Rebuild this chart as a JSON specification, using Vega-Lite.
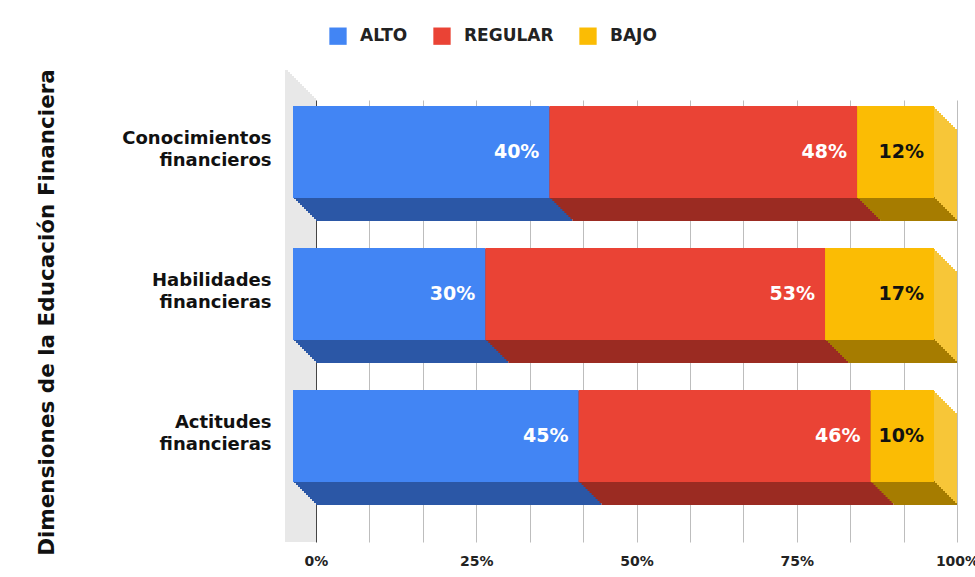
{
  "$schema": "https://vega.github.io/schema/vega-lite/v6.json",
  "width": 641,
  "height": 442,
  "autosize": "none",
  "padding": {"left": 316, "top": 100, "right": 18, "bottom": 35},
  "background": "white",
  "data": {
    "values": [
      {"dim": "Conocimientos financieros", "nivel": "ALTO", "orden": 1, "pct": 0.40},
      {"dim": "Conocimientos financieros", "nivel": "REGULAR", "orden": 2, "pct": 0.48},
      {"dim": "Conocimientos financieros", "nivel": "BAJO", "orden": 3, "pct": 0.12},
      {"dim": "Habilidades financieras", "nivel": "ALTO", "orden": 1, "pct": 0.30},
      {"dim": "Habilidades financieras", "nivel": "REGULAR", "orden": 2, "pct": 0.53},
      {"dim": "Habilidades financieras", "nivel": "BAJO", "orden": 3, "pct": 0.17},
      {"dim": "Actitudes financieras", "nivel": "ALTO", "orden": 1, "pct": 0.45},
      {"dim": "Actitudes financieras", "nivel": "REGULAR", "orden": 2, "pct": 0.46},
      {"dim": "Actitudes financieras", "nivel": "BAJO", "orden": 3, "pct": 0.10}
    ]
  },
  "transform": [
    {"stack": "pct", "groupby": ["dim"], "offset": "normalize", "sort": [{"field": "orden", "order": "ascending"}], "as": ["x0", "x1"]}
  ],
  "layer": [
    {"mark": {"type": "rule", "color": "#e8e8e8", "strokeWidth": 2, "xOffset": -1.5, "yOffset": -1.5}, "encoding": {"x": {"datum": 0, "type": "quantitative", "axis": {"title": null}}}},
    {"mark": {"type": "rule", "color": "#e8e8e8", "strokeWidth": 2, "xOffset": -3.5, "yOffset": -3.5}, "encoding": {"x": {"datum": 0, "type": "quantitative", "axis": {"title": null}}}},
    {"mark": {"type": "rule", "color": "#e8e8e8", "strokeWidth": 2, "xOffset": -5.5, "yOffset": -5.5}, "encoding": {"x": {"datum": 0, "type": "quantitative", "axis": {"title": null}}}},
    {"mark": {"type": "rule", "color": "#e8e8e8", "strokeWidth": 2, "xOffset": -7.5, "yOffset": -7.5}, "encoding": {"x": {"datum": 0, "type": "quantitative", "axis": {"title": null}}}},
    {"mark": {"type": "rule", "color": "#e8e8e8", "strokeWidth": 2, "xOffset": -9.5, "yOffset": -9.5}, "encoding": {"x": {"datum": 0, "type": "quantitative", "axis": {"title": null}}}},
    {"mark": {"type": "rule", "color": "#e8e8e8", "strokeWidth": 2, "xOffset": -11.5, "yOffset": -11.5}, "encoding": {"x": {"datum": 0, "type": "quantitative", "axis": {"title": null}}}},
    {"mark": {"type": "rule", "color": "#e8e8e8", "strokeWidth": 2, "xOffset": -13.5, "yOffset": -13.5}, "encoding": {"x": {"datum": 0, "type": "quantitative", "axis": {"title": null}}}},
    {"mark": {"type": "rule", "color": "#e8e8e8", "strokeWidth": 2, "xOffset": -15.5, "yOffset": -15.5}, "encoding": {"x": {"datum": 0, "type": "quantitative", "axis": {"title": null}}}},
    {"mark": {"type": "rule", "color": "#e8e8e8", "strokeWidth": 2, "xOffset": -17.5, "yOffset": -17.5}, "encoding": {"x": {"datum": 0, "type": "quantitative", "axis": {"title": null}}}},
    {"mark": {"type": "rule", "color": "#e8e8e8", "strokeWidth": 2, "xOffset": -19.5, "yOffset": -19.5}, "encoding": {"x": {"datum": 0, "type": "quantitative", "axis": {"title": null}}}},
    {"mark": {"type": "rule", "color": "#e8e8e8", "strokeWidth": 2, "xOffset": -21.5, "yOffset": -21.5}, "encoding": {"x": {"datum": 0, "type": "quantitative", "axis": {"title": null}}}},
    {"mark": {"type": "rule", "color": "#e8e8e8", "strokeWidth": 2, "xOffset": -23.5, "yOffset": -23.5}, "encoding": {"x": {"datum": 0, "type": "quantitative", "axis": {"title": null}}}},
    {"mark": {"type": "rule", "color": "#e8e8e8", "strokeWidth": 2, "xOffset": -25.5, "yOffset": -25.5}, "encoding": {"x": {"datum": 0, "type": "quantitative", "axis": {"title": null}}}},
    {"mark": {"type": "rule", "color": "#e8e8e8", "strokeWidth": 2, "xOffset": -27.5, "yOffset": -27.5}, "encoding": {"x": {"datum": 0, "type": "quantitative", "axis": {"title": null}}}},
    {"mark": {"type": "rule", "color": "#e8e8e8", "strokeWidth": 2, "xOffset": -29.5, "yOffset": -29.5}, "encoding": {"x": {"datum": 0, "type": "quantitative", "axis": {"title": null}}}},
    {
      "encoding": {
        "y": {
          "field": "dim",
          "type": "nominal",
          "sort": ["Conocimientos financieros", "Habilidades financieras", "Actitudes financieras"],
          "scale": {"paddingInner": 0.352, "paddingOuter": 0.2324, "align": 0.44},
          "axis": {
            "title": "Dimensiones de la Educación Financiera",
            "titleFont": "DejaVu Sans",
            "titleFontWeight": "bold",
            "titleFontSize": 21.5,
            "titleColor": "#111111",
            "titleX": -269,
            "titleY": 212,
            "titleAngle": -90,
            "titleAlign": "center",
            "titleBaseline": "middle",
            "labelExpr": "split(datum.label, ' ')",
            "labelFont": "DejaVu Sans",
            "labelFontWeight": "bold",
            "labelFontSize": 18,
            "labelColor": "#111111",
            "labelLineHeight": 22,
            "labelPadding": 45,
            "labelOffset": -36,
            "labelAlign": "right",
            "labelBaseline": "middle",
            "ticks": false,
            "domain": false,
            "grid": false
          }
        },
        "x": {
          "field": "x0",
          "type": "quantitative",
          "scale": {"domain": [0, 1]},
          "axis": {
            "title": null,
            "values": [0, 0.08333333, 0.16666667, 0.25, 0.33333333, 0.41666667, 0.5, 0.58333333, 0.66666667, 0.75, 0.83333333, 0.91666667, 1],
            "labelExpr": "(datum.value == 0 || datum.value == 0.25 || datum.value == 0.5 || datum.value == 0.75 || datum.value == 1) ? format(datum.value, '.0%') : ''",
            "grid": true,
            "gridColor": {"condition": {"test": "datum.value === 0", "value": "#444444"}, "value": "#bdbdbd"},
            "gridWidth": 1,
            "domain": false,
            "ticks": false,
            "labelPadding": 12,
            "labelFlush": false,
            "labelOverlap": false,
            "labelBound": false,
            "labelFont": "DejaVu Sans",
            "labelFontWeight": "bold",
            "labelFontSize": 14,
            "labelColor": "#222222"
          }
        },
        "x2": {"field": "x1"}
      },
      "layer": [
        {"mark": {"type": "bar", "xOffset": 0, "x2Offset": 0, "yOffset": 0}, "encoding": {"fill": {"condition": [{"test": "datum.nivel === 'ALTO'", "value": "#2b57a6"}, {"test": "datum.nivel === 'REGULAR'", "value": "#9b2b22"}], "value": "#a67c00"}}},
        {"transform": [{"filter": "datum.nivel === 'BAJO'"}], "mark": {"type": "bar", "xOffset": 0, "x2Offset": 0, "yOffset": -1, "height": 90, "color": "#f7c638"}},
        {"mark": {"type": "bar", "xOffset": -2, "x2Offset": -2, "yOffset": -2}, "encoding": {"fill": {"condition": [{"test": "datum.nivel === 'ALTO'", "value": "#2b57a6"}, {"test": "datum.nivel === 'REGULAR'", "value": "#9b2b22"}], "value": "#a67c00"}}},
        {"transform": [{"filter": "datum.nivel === 'BAJO'"}], "mark": {"type": "bar", "xOffset": -2, "x2Offset": -2, "yOffset": -3, "height": 90, "color": "#f7c638"}},
        {"mark": {"type": "bar", "xOffset": -4, "x2Offset": -4, "yOffset": -4}, "encoding": {"fill": {"condition": [{"test": "datum.nivel === 'ALTO'", "value": "#2b57a6"}, {"test": "datum.nivel === 'REGULAR'", "value": "#9b2b22"}], "value": "#a67c00"}}},
        {"transform": [{"filter": "datum.nivel === 'BAJO'"}], "mark": {"type": "bar", "xOffset": -4, "x2Offset": -4, "yOffset": -5, "height": 90, "color": "#f7c638"}},
        {"mark": {"type": "bar", "xOffset": -6, "x2Offset": -6, "yOffset": -6}, "encoding": {"fill": {"condition": [{"test": "datum.nivel === 'ALTO'", "value": "#2b57a6"}, {"test": "datum.nivel === 'REGULAR'", "value": "#9b2b22"}], "value": "#a67c00"}}},
        {"transform": [{"filter": "datum.nivel === 'BAJO'"}], "mark": {"type": "bar", "xOffset": -6, "x2Offset": -6, "yOffset": -7, "height": 90, "color": "#f7c638"}},
        {"mark": {"type": "bar", "xOffset": -8, "x2Offset": -8, "yOffset": -8}, "encoding": {"fill": {"condition": [{"test": "datum.nivel === 'ALTO'", "value": "#2b57a6"}, {"test": "datum.nivel === 'REGULAR'", "value": "#9b2b22"}], "value": "#a67c00"}}},
        {"transform": [{"filter": "datum.nivel === 'BAJO'"}], "mark": {"type": "bar", "xOffset": -8, "x2Offset": -8, "yOffset": -9, "height": 90, "color": "#f7c638"}},
        {"mark": {"type": "bar", "xOffset": -10, "x2Offset": -10, "yOffset": -10}, "encoding": {"fill": {"condition": [{"test": "datum.nivel === 'ALTO'", "value": "#2b57a6"}, {"test": "datum.nivel === 'REGULAR'", "value": "#9b2b22"}], "value": "#a67c00"}}},
        {"transform": [{"filter": "datum.nivel === 'BAJO'"}], "mark": {"type": "bar", "xOffset": -10, "x2Offset": -10, "yOffset": -11, "height": 90, "color": "#f7c638"}},
        {"mark": {"type": "bar", "xOffset": -12, "x2Offset": -12, "yOffset": -12}, "encoding": {"fill": {"condition": [{"test": "datum.nivel === 'ALTO'", "value": "#2b57a6"}, {"test": "datum.nivel === 'REGULAR'", "value": "#9b2b22"}], "value": "#a67c00"}}},
        {"transform": [{"filter": "datum.nivel === 'BAJO'"}], "mark": {"type": "bar", "xOffset": -12, "x2Offset": -12, "yOffset": -13, "height": 90, "color": "#f7c638"}},
        {"mark": {"type": "bar", "xOffset": -14, "x2Offset": -14, "yOffset": -14}, "encoding": {"fill": {"condition": [{"test": "datum.nivel === 'ALTO'", "value": "#2b57a6"}, {"test": "datum.nivel === 'REGULAR'", "value": "#9b2b22"}], "value": "#a67c00"}}},
        {"transform": [{"filter": "datum.nivel === 'BAJO'"}], "mark": {"type": "bar", "xOffset": -14, "x2Offset": -14, "yOffset": -15, "height": 90, "color": "#f7c638"}},
        {"mark": {"type": "bar", "xOffset": -16, "x2Offset": -16, "yOffset": -16}, "encoding": {"fill": {"condition": [{"test": "datum.nivel === 'ALTO'", "value": "#2b57a6"}, {"test": "datum.nivel === 'REGULAR'", "value": "#9b2b22"}], "value": "#a67c00"}}},
        {"transform": [{"filter": "datum.nivel === 'BAJO'"}], "mark": {"type": "bar", "xOffset": -16, "x2Offset": -16, "yOffset": -17, "height": 90, "color": "#f7c638"}},
        {"mark": {"type": "bar", "xOffset": -18, "x2Offset": -18, "yOffset": -18}, "encoding": {"fill": {"condition": [{"test": "datum.nivel === 'ALTO'", "value": "#2b57a6"}, {"test": "datum.nivel === 'REGULAR'", "value": "#9b2b22"}], "value": "#a67c00"}}},
        {"transform": [{"filter": "datum.nivel === 'BAJO'"}], "mark": {"type": "bar", "xOffset": -18, "x2Offset": -18, "yOffset": -19, "height": 90, "color": "#f7c638"}},
        {"mark": {"type": "bar", "xOffset": -20, "x2Offset": -20, "yOffset": -20}, "encoding": {"fill": {"condition": [{"test": "datum.nivel === 'ALTO'", "value": "#2b57a6"}, {"test": "datum.nivel === 'REGULAR'", "value": "#9b2b22"}], "value": "#a67c00"}}},
        {"transform": [{"filter": "datum.nivel === 'BAJO'"}], "mark": {"type": "bar", "xOffset": -20, "x2Offset": -20, "yOffset": -21, "height": 90, "color": "#f7c638"}},
        {"mark": {"type": "bar", "xOffset": -22, "x2Offset": -22, "yOffset": -22}, "encoding": {"fill": {"condition": [{"test": "datum.nivel === 'ALTO'", "value": "#2b57a6"}, {"test": "datum.nivel === 'REGULAR'", "value": "#9b2b22"}], "value": "#a67c00"}}},
        {"transform": [{"filter": "datum.nivel === 'BAJO'"}], "mark": {"type": "bar", "xOffset": -22, "x2Offset": -22, "yOffset": -23, "height": 90, "color": "#f7c638"}},
        {
          "mark": {"type": "bar", "xOffset": -23, "x2Offset": -23, "yOffset": -23},
          "encoding": {
            "color": {
              "field": "nivel",
              "type": "nominal",
              "scale": {"domain": ["ALTO", "REGULAR", "BAJO"], "range": ["#4285f4", "#ea4335", "#fbbc04"]},
              "legend": {
                "orient": "none",
                "legendX": 13,
                "legendY": -73,
                "direction": "horizontal",
                "title": null,
                "symbolType": "square",
                "symbolSize": 300,
                "symbolStrokeWidth": 0,
                "labelFont": "DejaVu Sans",
                "labelFontWeight": "bold",
                "labelFontSize": 17,
                "labelColor": "#222222",
                "labelOffset": 13,
                "columnPadding": 25
              }
            }
          }
        },
        {
          "mark": {"type": "text", "align": "right", "baseline": "middle", "xOffset": -33, "yOffset": -23, "font": "DejaVu Sans", "fontWeight": "bold", "fontSize": 19},
          "encoding": {
            "x": {"field": "x1", "type": "quantitative"},
            "text": {"field": "pct", "type": "quantitative", "format": ".0%"},
            "color": {"condition": {"test": "datum.nivel === 'BAJO'", "value": "#111111"}, "value": "#ffffff"}
          }
        }
      ]
    }
  ],
  "config": {
    "view": {"stroke": null}
  }
}
